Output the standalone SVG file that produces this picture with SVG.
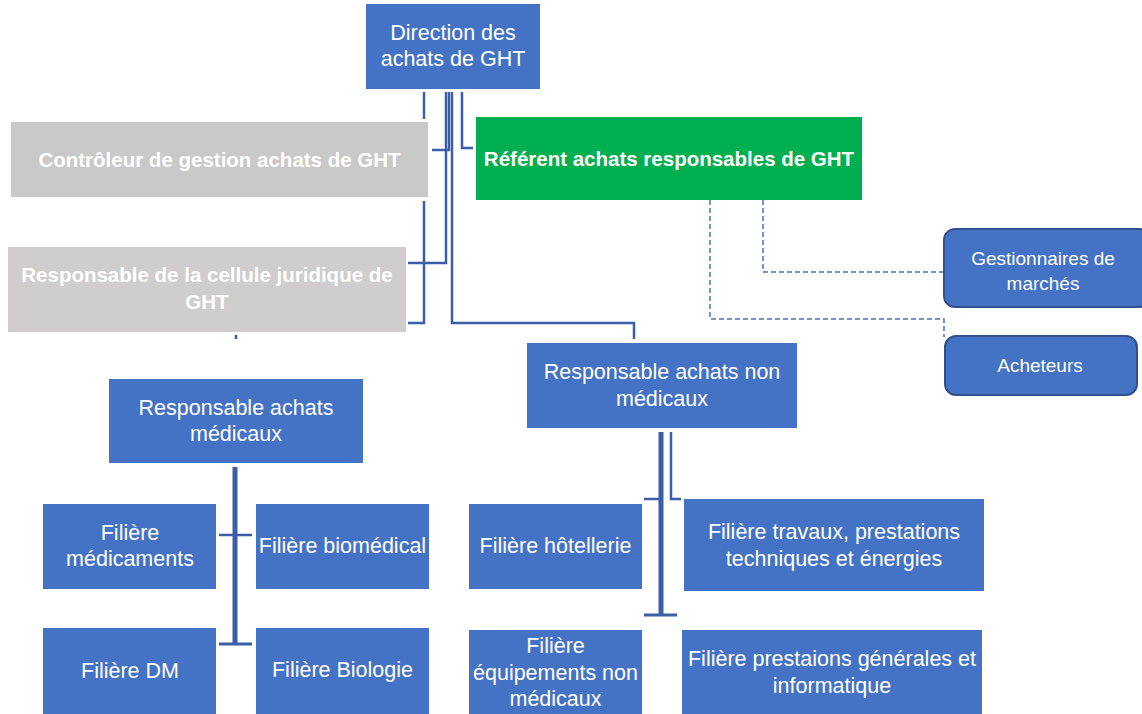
<svg xmlns="http://www.w3.org/2000/svg" width="1142" height="714" viewBox="0 0 1142 714">
<style>
.box{fill:#4472C4}
.rbox{fill:#4472C4;stroke:#2F528F;stroke-width:2}
.t{font-family:"Liberation Sans",Arial,sans-serif;font-size:21.5px;fill:#fff;text-anchor:middle}
.ts{font-family:"Liberation Sans",Arial,sans-serif;font-size:19px;fill:#fff;text-anchor:middle}
.tb{font-family:"Liberation Sans",Arial,sans-serif;font-size:20.5px;font-weight:bold;fill:#fff;text-anchor:middle}
.c{fill:none;stroke:#3C5EA8;stroke-width:2.5}
.ck{fill:none;stroke:#3C5EA8;stroke-width:5}
.d{fill:none;stroke:#4472C4;stroke-width:1.5;stroke-dasharray:5 3}
</style>
<rect width="1142" height="714" fill="#fff"/>
<g id="connectors">
<path class="c" d="M424,92 V119"/>
<path class="c" d="M449,92 V150 H432"/>
<path class="c" d="M446,92 V263 H408"/>
<path class="c" d="M424,201 V323 H408"/>
<path class="c" d="M452,92 V323 H634 V339"/>
<path class="c" d="M462,92 V148 H473"/>
<path class="c" d="M236,335 V339"/>
<path class="ck" d="M235,467 V644"/>
<path class="c" d="M219,535 H252"/>
<path class="c" d="M219,644 H252" style="stroke-width:3"/>
<path class="ck" d="M661,432 V615"/>
<path class="c" d="M644,499 H661"/>
<path class="c" d="M644,615 H677" style="stroke-width:3"/>
<path class="c" d="M671,432 V499 H681"/>
<path class="d" d="M763,200 V272 H943"/>
<path class="d" d="M710,200 V319 H944 V337"/>
</g>
<g id="direction">
<rect class="box" x="366" y="4" width="174" height="85"/>
<text class="t" x="453" y="40">Direction des</text>
<text class="t" x="453" y="66">achats de GHT</text>
</g>
<g id="controleur">
<rect x="11" y="122" width="417" height="75" fill="#C9C9C9"/>
<text class="tb" x="219.5" y="167">Contrôleur de gestion achats de GHT</text>
</g>
<g id="referent">
<rect x="476" y="117" width="386" height="83" fill="#00B050"/>
<text class="tb" x="669" y="166">Référent achats responsables de GHT</text>
</g>
<g id="juridique">
<rect x="8" y="247" width="398" height="85" fill="#CFCDCD"/>
<text class="tb" x="207" y="282">Responsable de la cellule juridique de</text>
<text class="tb" x="207" y="309">GHT</text>
</g>
<g id="gestionnaires">
<rect class="rbox" x="944" y="229" width="206" height="78" rx="11"/>
<text class="ts" x="1043" y="265">Gestionnaires de</text>
<text class="ts" x="1043" y="290">marchés</text>
</g>
<g id="acheteurs">
<rect class="rbox" x="945" y="336" width="192" height="59" rx="11"/>
<text class="ts" x="1040" y="372">Acheteurs</text>
</g>
<g id="resp-non-medicaux">
<rect class="box" x="527" y="343" width="270" height="85"/>
<text class="t" x="662" y="379">Responsable achats non</text>
<text class="t" x="662" y="406">médicaux</text>
</g>
<g id="resp-medicaux">
<rect class="box" x="109" y="379" width="254" height="84"/>
<text class="t" x="236" y="415">Responsable achats</text>
<text class="t" x="236" y="441">médicaux</text>
</g>
<g id="medicaments">
<rect class="box" x="43" y="504" width="173" height="85"/>
<text class="t" x="130" y="540">Filière</text>
<text class="t" x="130" y="566">médicaments</text>
</g>
<g id="biomedical">
<rect class="box" x="256" y="504" width="173" height="85"/>
<text class="t" x="342.5" y="553">Filière biomédical</text>
</g>
<g id="dm">
<rect class="box" x="43" y="628" width="173" height="86"/>
<text class="t" x="130" y="678">Filière DM</text>
</g>
<g id="biologie">
<rect class="box" x="256" y="628" width="173" height="86"/>
<text class="t" x="342.5" y="677">Filière Biologie</text>
</g>
<g id="hotellerie">
<rect class="box" x="469" y="504" width="173" height="85"/>
<text class="t" x="555.5" y="553">Filière hôtellerie</text>
</g>
<g id="travaux">
<rect class="box" x="684" y="499" width="300" height="92"/>
<text class="t" x="834" y="539">Filière travaux, prestations</text>
<text class="t" x="834" y="566">techniques et énergies</text>
</g>
<g id="equipements">
<rect class="box" x="469" y="630" width="173" height="84"/>
<text class="t" x="555.5" y="653">Filière</text>
<text class="t" x="555.5" y="680">équipements non</text>
<text class="t" x="555.5" y="706">médicaux</text>
</g>
<g id="prestations">
<rect class="box" x="682" y="630" width="300" height="84"/>
<text class="t" x="832" y="666">Filière prestaions générales et</text>
<text class="t" x="832" y="693">informatique</text>
</g>
</svg>
